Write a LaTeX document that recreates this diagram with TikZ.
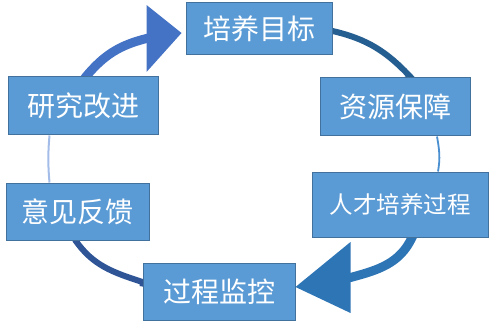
\documentclass[tikz,border=0pt]{standalone}
\usepackage{fontspec}
\newfontfamily\cjk{Noto Sans CJK SC}
\usepackage{tikz}
\usetikzlibrary{calc, backgrounds}
\definecolor{boxfill}{HTML}{5B9BD5}
\definecolor{boxline}{HTML}{41719C}
\definecolor{ringA}{HTML}{4472C4}
\definecolor{ringB}{HTML}{2E75B6}
\definecolor{ringC}{HTML}{255E91}
\definecolor{ringD}{HTML}{2F5597}
\definecolor{ringE}{HTML}{A3BDE8}
\definecolor{ringF}{HTML}{4A8FD0}

\begin{document}
\begin{tikzpicture}[x=1pt, y=1pt,
    stage/.style={draw=boxline, line width=1pt, fill=boxfill, text=white, inner sep=0pt,
        font=\cjk\fontsize{28}{30}\selectfont},
    small/.style={font=\cjk\fontsize{23.5}{26}\selectfont}]
    \useasboundingbox (0,0) rectangle (494,324);
    \node[stage, minimum width=146, minimum height=52] (goal) at (259,295) {培养目标};
    \node[stage, minimum width=150, minimum height=58] (res) at (395,217) {资源保障};
    \node[stage, small, minimum width=176, minimum height=65] (proc) at (400,119.5) {人才培养过程};
    \node[stage, minimum width=152, minimum height=57] (mon) at (219,32.5) {过程监控};
    \node[stage, minimum width=143, minimum height=57] (fb) at (77.5,112.5) {意见反馈};
    \node[stage, minimum width=150, minimum height=58] (imp) at (83,218) {研究改进};
    \coordinate (tipA) at ([shift={(-4,-4)}]goal.west);
    \coordinate (baseA) at ($(tipA)+(-35,-5.5)$);
    \coordinate (tipB) at ([yshift=4.5]mon.east);
    \coordinate (baseB) at ($(tipB)+(55,9.5)$);
    \begin{scope}[on background layer]
        \draw[ringC, line width=6] ([shift={(-6,-2)}]goal.east) -- ([yshift=-2]goal.east)
            to[out=-13, in=133] ([xshift=16]res.north) -- ([shift={(4,-5)}]res.north);
        \draw[ringF, line width=1.8] ([xshift=42]res.south) to[out=-80, in=80] ([xshift=38]proc.north);
        \draw[ringB, line width=9] ([shift={(14,4)}]proc.south) -- ([xshift=12]proc.south)
            to[out=-115, in=15] (baseB) -- ($(baseB)+(-6,-1)$);
        \draw[ringD, line width=6] ([shift={(-4,4)}]fb.south) -- ([xshift=-2]fb.south)
            to[out=-55, in=162] ([yshift=9.5]mon.west) -- ([yshift=8]mon.west) -- ([shift={(6,7)}]mon.west);
        \draw[ringE, line width=2] ([xshift=-28]fb.north) to[out=95, in=-95] ([xshift=-33.5]imp.south);
        \draw[ringA, line width=9] ([shift={(0,-4)}]imp.north) -- ([xshift=3]imp.north)
            to[out=50, in=-166] (baseA) -- ($(baseA)+(6,1.5)$);
    \end{scope}
    \fill[ringA] (tipA) -- ($(baseA)+(0,33.5)$) -- ($(baseA)+(0,-33.5)$) -- cycle;
    \fill[ringB] (tipB) -- ($(baseB)+(0,35.5)$) -- ($(baseB)+(0,-35.5)$) -- cycle;
\end{tikzpicture}
\end{document}
